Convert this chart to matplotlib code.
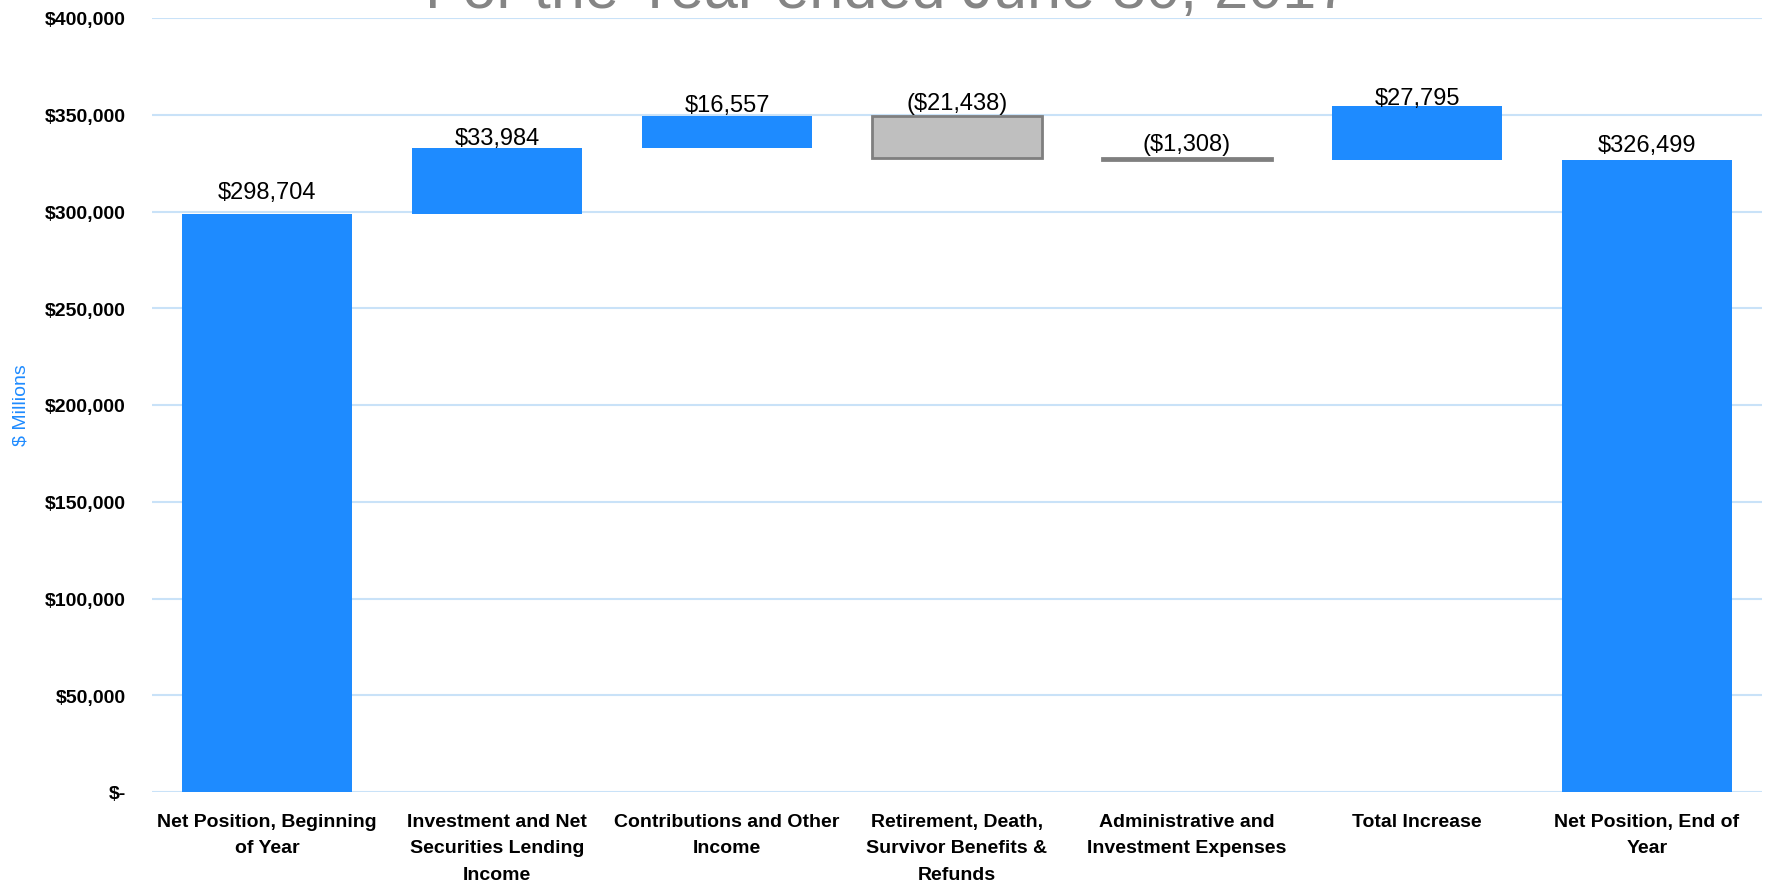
import matplotlib
matplotlib.use("Agg")
import matplotlib.pyplot as plt
from matplotlib.ticker import FuncFormatter
import numpy as np

categories = ["Net Position, Beginning\nof Year",
              "Investment and Net\nSecurities Lending\nIncome",
              "Contributions and Other\nIncome",
              "Retirement, Death,\nSurvivor Benefits &\nRefunds",
              "Administrative and\nInvestment Expenses",
              "Total Increase",
              "Net Position, End of\nYear"]
heights = [298704, 33984, 16557, -21438, -1308, 27795, 326499]
bottoms = [0, 298704, 332688, 349245, 327807, 326499, 0]
labels = ["$298,704", "$33,984", "$16,557", "($21,438)", "($1,308)", "$27,795", "$326,499"]
kinds = ["pos", "pos", "pos", "neg", "neg", "pos", "pos"]

# label baseline gap above bar top, in pixels (style)
label_gap_px = [16, 4, 5, 7, 8, 2, 9]

BLUE = "#1E8BFF"
GRAY = "#BFBFBF"
GRID = "#C9E2F8"
FONT = ["Liberation Sans", "DejaVu Sans"]

fig = plt.figure(figsize=(17.69, 8.87), dpi=100)
ax = fig.add_axes([152/1769, 1 - 793/887, (1762-152)/1769, (793-19)/887])

x = np.arange(len(categories))
for i in range(len(categories)):
    if kinds[i] == "pos":
        ax.bar(x[i], heights[i], bottom=bottoms[i], width=0.735, color=BLUE, zorder=3)
    else:
        ax.bar(x[i], heights[i], bottom=bottoms[i], width=0.735, color=GRAY,
               edgecolor="#7F7F7F", linewidth=2, zorder=3)
    top = max(bottoms[i], bottoms[i] + heights[i])
    ax.annotate(labels[i], xy=(x[i], top), xytext=(0, label_gap_px[i] * 0.72),
                textcoords="offset points", ha="center", va="baseline",
                fontsize=17, family=FONT, color="black", zorder=4)

ax.set_xlim(-0.5, len(categories) - 0.5)
ax.set_ylim(0, 400000)
ax.set_yticks(np.arange(0, 400001, 50000))
ax.yaxis.set_major_formatter(FuncFormatter(lambda v, p: "$-" if v == 0 else f"${v:,.0f}"))
ax.set_xticks(x)
ax.set_xticklabels(categories)
for lbl in ax.get_xticklabels():
    lbl.set_family(FONT); lbl.set_fontsize(14); lbl.set_fontweight("bold")
    lbl.set_linespacing(1.72)
for lbl in ax.get_yticklabels():
    lbl.set_family(FONT); lbl.set_fontsize(14); lbl.set_fontweight("bold")
ax.tick_params(axis="both", length=0)
ax.tick_params(axis="x", pad=15)
ax.tick_params(axis="y", pad=19)
ax.grid(axis="y", color=GRID, linewidth=1.5, zorder=0)
for s in ax.spines.values():
    s.set_visible(False)

fig.text(21/1769, 1 - 405/887, "$ Millions", rotation=90, ha="center", va="center",
         fontsize=14, color=BLUE, family=FONT)
fig.text(888/1769, 1 - 8/887, "For the Year ended June 30, 2017", ha="center", va="baseline",
         fontsize=44, color="#858585", family=FONT)

fig.savefig("out.png", dpi=100)
